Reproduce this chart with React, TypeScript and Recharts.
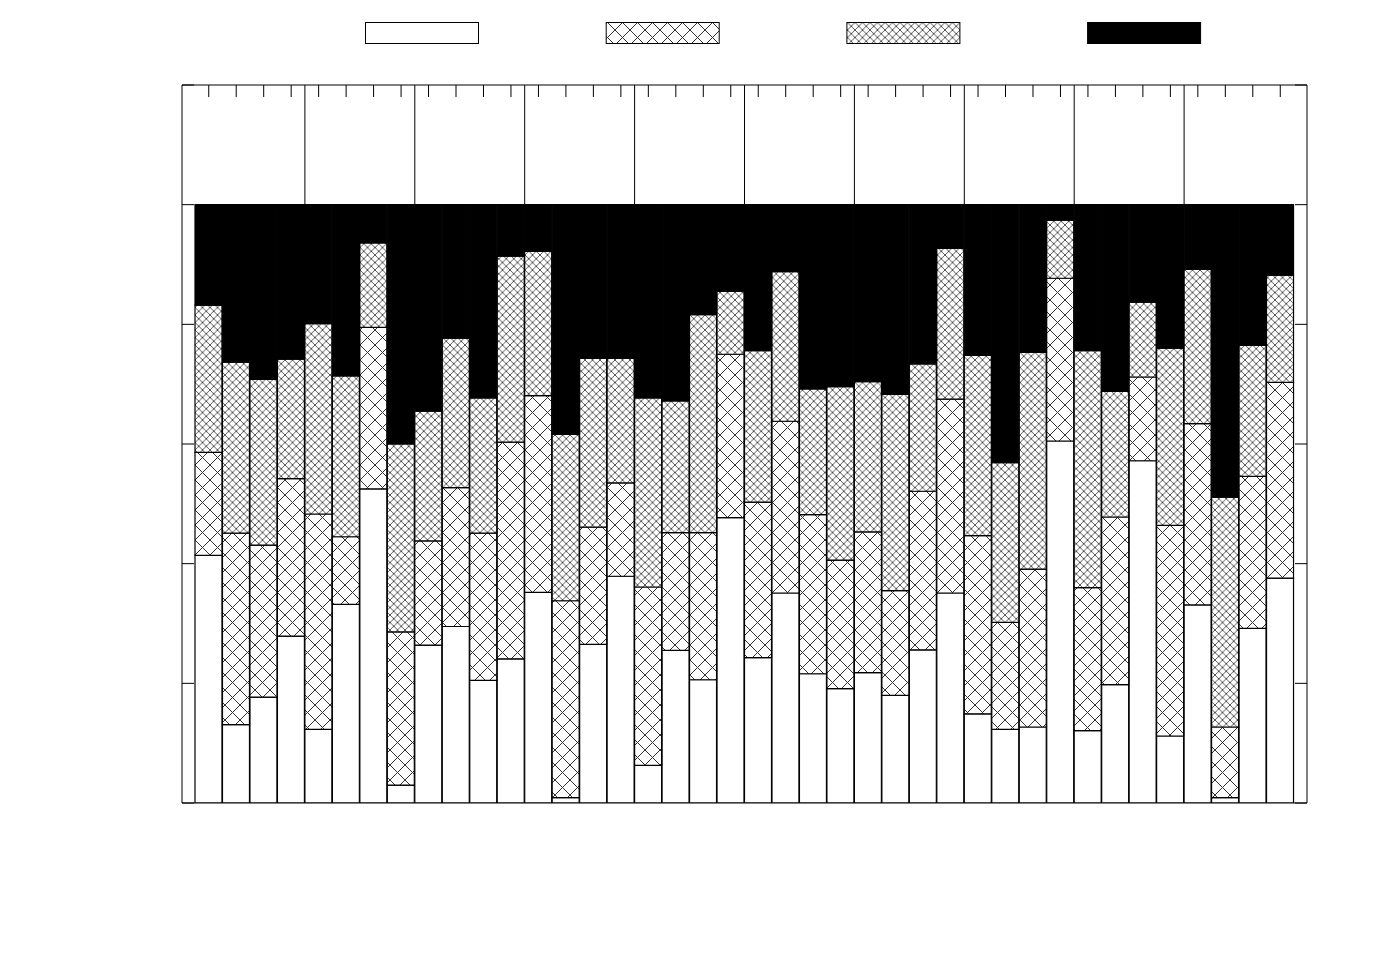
import { BarChart, Bar, XAxis, YAxis, Legend, ReferenceLine } from "recharts";

// 40 stacked bars, each summing to 100. No labels survive in the source image.
const categories = Array.from({ length: 40 }, (_, i) => String(i + 1));

const partA = [
  41.4, 13.1, 17.7, 27.9, 12.3, 33.2, 52.5, 3.0, 26.4, 29.5,
  20.5, 24.1, 35.2, 0.9, 26.5, 37.9, 6.3, 25.5, 20.6, 47.7,
  24.3, 35.1, 21.6, 19.1, 21.8, 18.0, 25.6, 35.1, 14.9, 12.3,
  12.7, 60.5, 12.1, 19.8, 57.2, 11.2, 33.1, 0.9, 29.2, 37.6,
];
const partB = [
  17.2, 32.0, 25.4, 26.3, 36.0, 11.3, 27.0, 25.6, 17.4, 23.2,
  24.6, 36.2, 32.9, 32.9, 19.6, 15.6, 29.8, 19.7, 24.6, 27.3,
  26.0, 28.7, 26.6, 21.5, 23.5, 17.5, 26.5, 32.4, 29.8, 17.9,
  26.4, 27.2, 23.9, 28.0, 14.0, 35.2, 30.3, 11.8, 25.4, 32.7,
];
const partC = [
  24.6, 28.6, 27.7, 20.0, 31.8, 26.9, 14.1, 31.4, 21.7, 25.0,
  22.6, 31.1, 24.1, 27.8, 28.2, 20.8, 31.6, 22.0, 36.4, 10.5,
  25.3, 25.0, 21.0, 29.0, 25.1, 32.8, 21.3, 25.2, 30.1, 26.7,
  36.2, 9.7, 39.6, 21.0, 12.5, 29.6, 25.8, 38.4, 21.9, 17.9,
];
const partD = [
  16.8, 26.3, 29.2, 25.8, 19.9, 28.6, 6.4, 40.0, 34.5, 22.3,
  32.3, 8.6, 7.8, 38.4, 25.7, 25.7, 32.3, 32.8, 18.4, 14.5,
  24.4, 11.2, 30.8, 30.4, 29.6, 31.7, 26.6, 7.3, 25.2, 43.1,
  24.7, 2.6, 24.4, 31.2, 16.3, 24.0, 10.8, 48.9, 23.5, 11.8,
];

const yTicks = [0, 20, 40, 60, 80, 100, 120];
const groupSize = 4;

const series = [
  { key: "a", fill: "#ffffff" },
  { key: "b", fill: "url(#hatchCoarse)" },
  { key: "c", fill: "url(#hatchFine)" },
  { key: "d", fill: "#000000" },
];

const data = categories.map((cat, i) => ({
  cat,
  idx: i,
  a: partA[i],
  b: partB[i],
  c: partC[i],
  d: partD[i],
}));

// boundaries between groups of bars, in index units on the numeric helper axis
const separators = categories
  .map((_, i) => i)
  .filter((i) => i > 0 && i % groupSize === 0)
  .map((i) => i - 0.5);

function LegendBoxes() {
  return (
    <svg width={1384} height={50} style={{ display: "block" }}>
      {series.map((s, i) => (
        <rect
          key={s.key}
          x={365.5 + i * 240.7}
          y={22.5}
          width={113}
          height={21}
          fill={s.fill}
          stroke="#000"
          strokeWidth={1}
        />
      ))}
    </svg>
  );
}

// tick lines only, the labels are empty in the original
const noLabel = () => <g />;
const axisStroke = { stroke: "#000", strokeWidth: 1 };

export default function App() {
  return (
    <div style={{ position: "absolute", left: 0, top: 0, background: "#fff" }}>
      <BarChart
        width={1384}
        height={969}
        data={data}
        barCategoryGap={0}
        barGap={0}
        margin={{ top: 85, right: 77, bottom: 166, left: 182 }}
      >
        <defs>
          <pattern id="hatchCoarse" patternUnits="userSpaceOnUse" width={15} height={15}>
            <rect width={15} height={15} fill="#fff" />
            <path d="M-1,-1 L16,16 M16,-1 L-1,16" stroke="#333" strokeWidth={1} />
          </pattern>
          <pattern id="hatchFine" patternUnits="userSpaceOnUse" width={7.5} height={7.5}>
            <rect width={7.5} height={7.5} fill="#fff" />
            <path d="M-1,-1 L8.5,8.5 M8.5,-1 L-1,8.5" stroke="#444" strokeWidth={0.9} />
          </pattern>
        </defs>
        <XAxis
          dataKey="cat"
          height={1}
          mirror
          tick={false}
          tickLine={false}
          axisLine={axisStroke}
          padding={{ left: 13, right: 13 }}
        />
        <XAxis
          xAxisId="top"
          orientation="top"
          dataKey="cat"
          height={1}
          mirror
          interval={0}
          tick={noLabel}
          tickSize={12}
          tickLine={axisStroke}
          axisLine={axisStroke}
          padding={{ left: 13, right: 13 }}
        />
        <XAxis
          xAxisId="num"
          type="number"
          dataKey="idx"
          domain={[-0.5, 39.5]}
          allowDataOverflow
          hide
          padding={{ left: 13, right: 13 }}
        />
        <YAxis
          yAxisId="left"
          width={1}
          domain={[0, 120]}
          ticks={yTicks}
          interval={0}
          allowDataOverflow
          mirror
          tick={noLabel}
          tickSize={12}
          tickLine={axisStroke}
          axisLine={axisStroke}
        />
        <YAxis
          yAxisId="right"
          orientation="right"
          width={1}
          domain={[0, 120]}
          ticks={yTicks}
          interval={0}
          allowDataOverflow
          mirror
          tick={noLabel}
          tickSize={12}
          tickLine={axisStroke}
          axisLine={axisStroke}
        />
        <Legend
          verticalAlign="middle"
          align="center"
          layout="horizontal"
          wrapperStyle={{ top: 0, left: 0, width: 1384, height: 50 }}
          content={() => <LegendBoxes />}
        />
        {series.map((s) => (
          <Bar
            key={s.key}
            dataKey={s.key}
            yAxisId="left"
            stackId="all"
            fill={s.fill}
            stroke="#000"
            strokeWidth={1.2}
            isAnimationActive={false}
          />
        ))}
        {separators.map((x) => (
          <ReferenceLine
            key={x}
            xAxisId="num"
            yAxisId="left"
            segment={[
              { x, y: 100 },
              { x, y: 120 },
            ]}
            stroke="#000"
            strokeWidth={1}
          />
        ))}
      </BarChart>
    </div>
  );
}
